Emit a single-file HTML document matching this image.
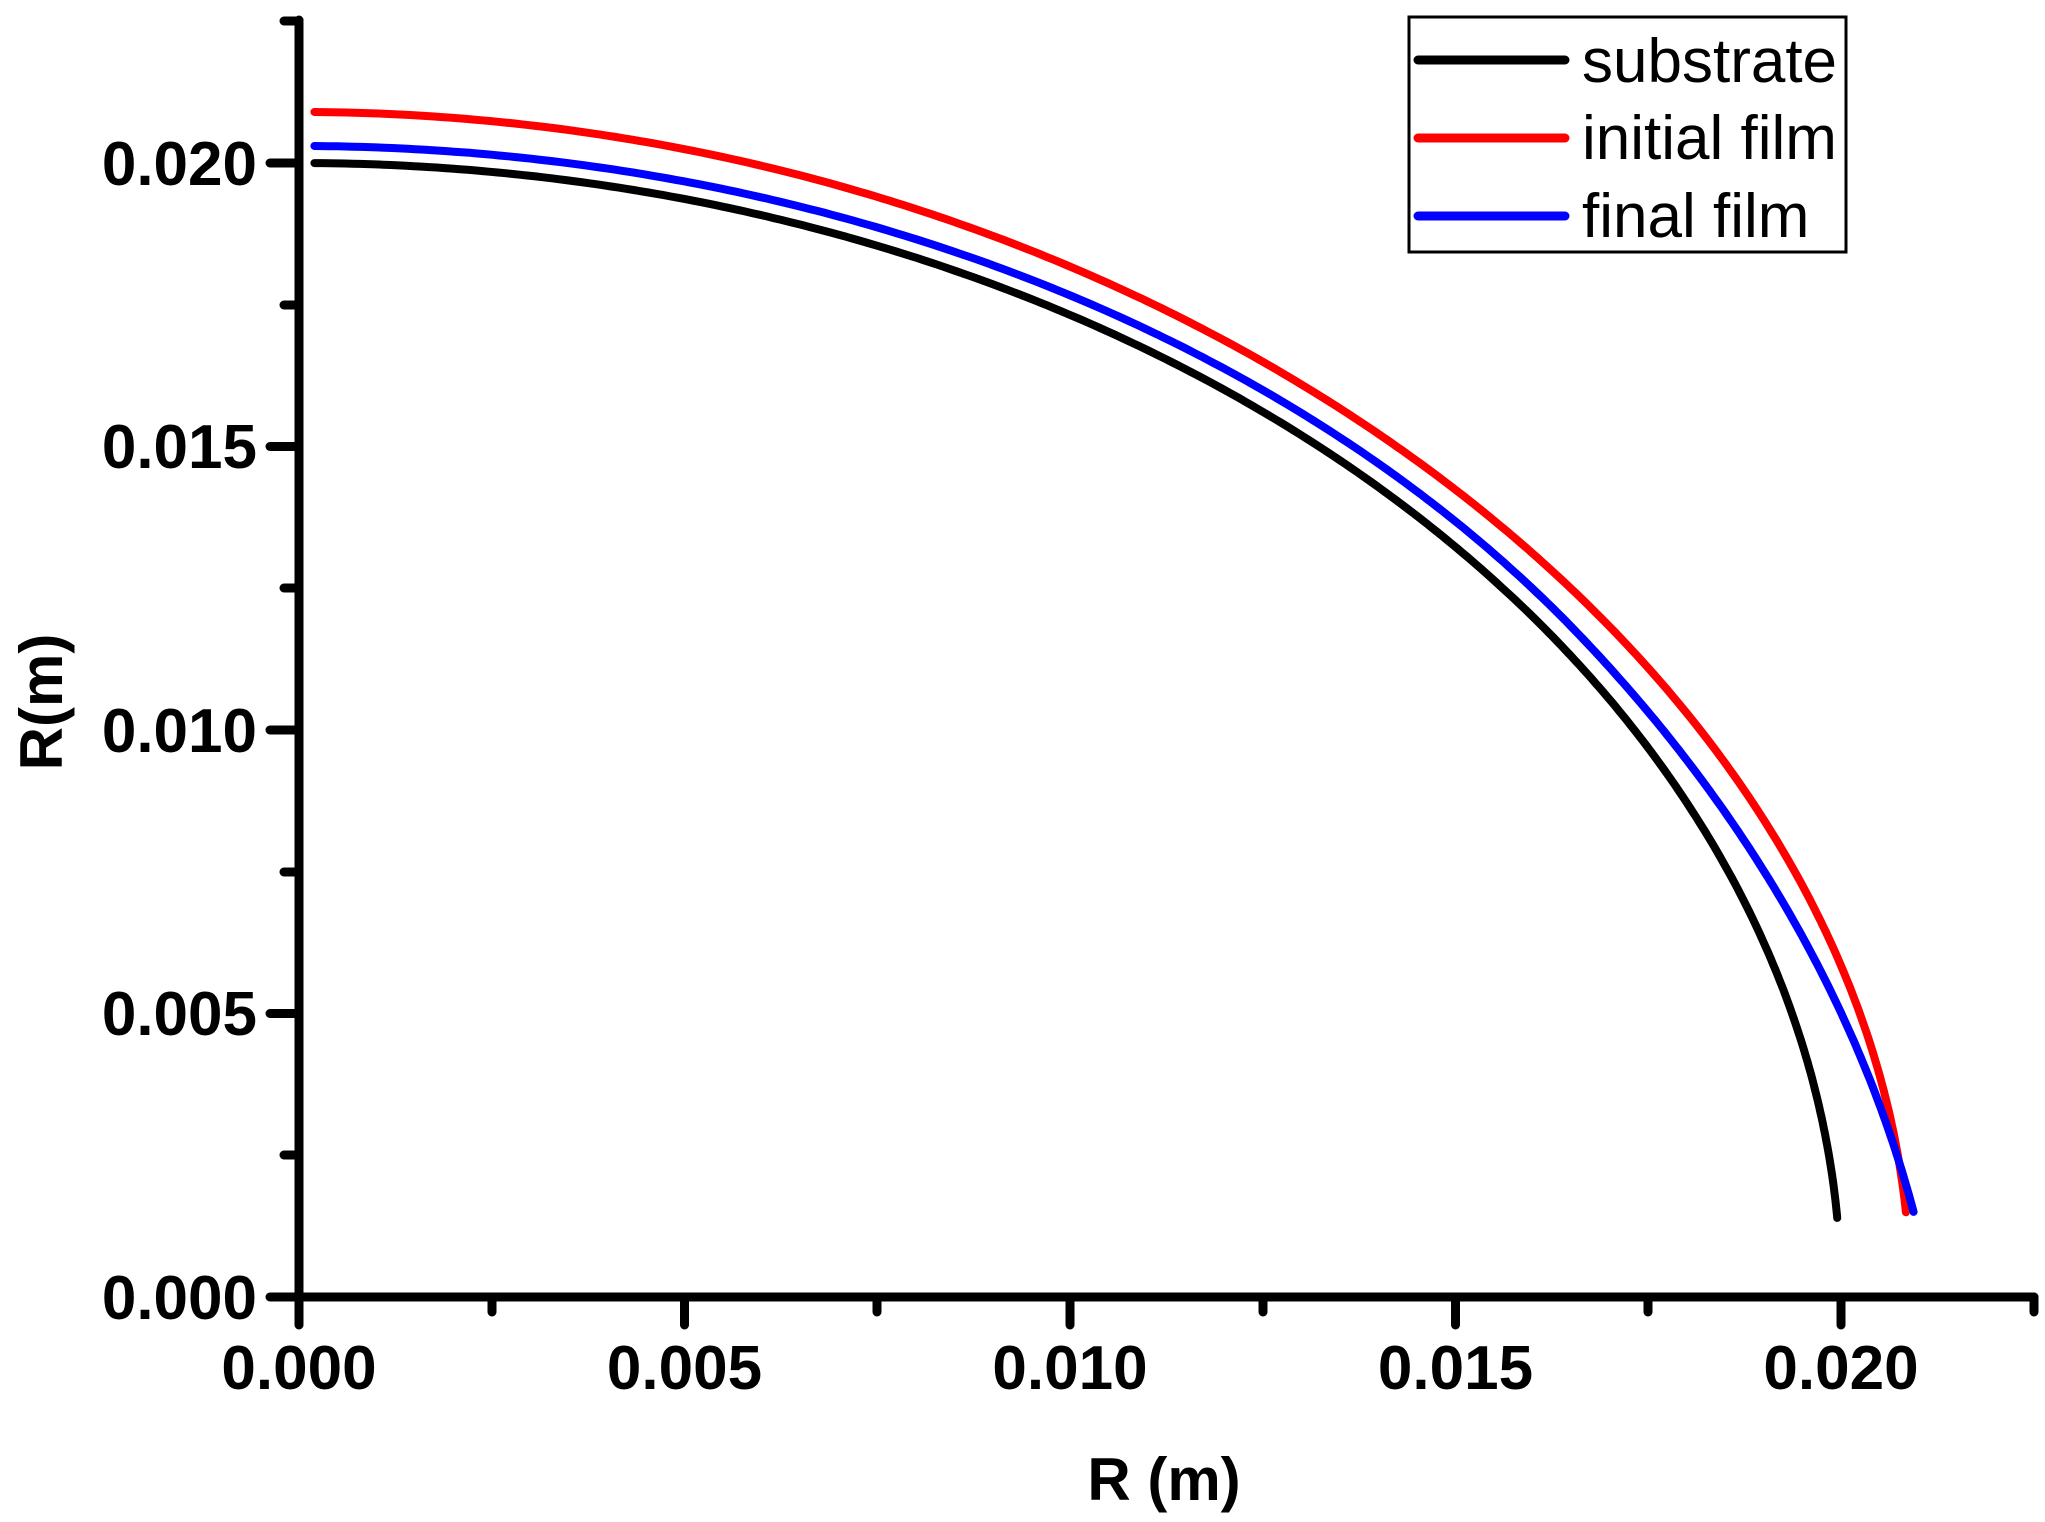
<!DOCTYPE html>
<html><head><meta charset="utf-8"><style>
html,body{margin:0;padding:0;background:#fff;}
svg{display:block;}
text{font-family:"Liberation Sans",Arial,sans-serif;}
</style></head><body>
<svg id="s" width="2045" height="1522" viewBox="0 0 2045 1522" xmlns="http://www.w3.org/2000/svg">
<rect width="2045" height="1522" fill="#fff"/>
<g stroke="#000" stroke-width="9" stroke-linecap="round" fill="none">
<line x1="299" y1="20" x2="299" y2="1297"/>
<line x1="299" y1="1297" x2="2034" y2="1297"/>
<line x1="270" y1="1297" x2="299" y2="1297"/>
<line x1="270" y1="1013.5" x2="299" y2="1013.5"/>
<line x1="270" y1="730" x2="299" y2="730"/>
<line x1="270" y1="446.5" x2="299" y2="446.5"/>
<line x1="270" y1="163" x2="299" y2="163"/>
<line x1="284" y1="1155" x2="299" y2="1155"/>
<line x1="284" y1="872" x2="299" y2="872"/>
<line x1="284" y1="588" x2="299" y2="588"/>
<line x1="284" y1="305" x2="299" y2="305"/>
<line x1="284" y1="21" x2="299" y2="21"/>
<line x1="299" y1="1297" x2="299" y2="1325"/>
<line x1="684.5" y1="1297" x2="684.5" y2="1325"/>
<line x1="1070" y1="1297" x2="1070" y2="1325"/>
<line x1="1455.5" y1="1297" x2="1455.5" y2="1325"/>
<line x1="1841" y1="1297" x2="1841" y2="1325"/>
<line x1="492" y1="1297" x2="492" y2="1312"/>
<line x1="877" y1="1297" x2="877" y2="1312"/>
<line x1="1263" y1="1297" x2="1263" y2="1312"/>
<line x1="1648" y1="1297" x2="1648" y2="1312"/>
<line x1="2034" y1="1297" x2="2034" y2="1312"/>
</g>
<g font-size="62" font-weight="bold" text-anchor="end">
<text x="257" y="1319">0.000</text>
<text x="257" y="1035">0.005</text>
<text x="257" y="752">0.010</text>
<text x="257" y="468">0.015</text>
<text x="257" y="185">0.020</text>
</g>
<g font-size="62" font-weight="bold" text-anchor="middle">
<text x="299" y="1389">0.000</text>
<text x="684.5" y="1389">0.005</text>
<text x="1070" y="1389">0.010</text>
<text x="1455.5" y="1389">0.015</text>
<text x="1841" y="1389">0.020</text>
</g>
<text x="1164" y="1500" font-size="60" font-weight="bold" text-anchor="middle">R (m)</text>
<text transform="translate(62,702) rotate(-90)" font-size="60" font-weight="bold" text-anchor="middle">R(m)</text>
<g id="curves" fill="none" stroke-width="8" stroke-linecap="round" stroke-linejoin="round"></g>
<rect x="1409" y="17" width="437" height="235" fill="#fff" stroke="#000" stroke-width="3"/>
<g stroke-width="9" stroke-linecap="round">
<line x1="1418" y1="60" x2="1565" y2="60" stroke="#000"/>
<line x1="1418" y1="138" x2="1565" y2="138" stroke="#f00"/>
<line x1="1418" y1="216" x2="1565" y2="216" stroke="#00f"/>
</g>
<g font-size="62">
<text x="1582" y="82">substrate</text>
<text x="1582" y="159">initial film</text>
<text x="1582" y="237">final film</text>
</g>
</svg>
<script>
(function(){
function X(v){return 299+v/0.005*385.5;}
function Y(v){return 1297-v/0.005*283.5;}
var D=Math.PI/180;
function path(rf,r0,thEnd,color){
  var d="",n=300;
  var t0=Math.asin(0.0002/r0), t1=thEnd*D;
  for(var i=0;i<=n;i++){
    var t=t0+(t1-t0)*i/n, r=rf(t);
    var x=r*Math.sin(t), y=r*Math.cos(t);
    d+=(i?"L":"M")+X(x).toFixed(1)+" "+Y(y).toFixed(1);
  }
  var p=document.createElementNS("http://www.w3.org/2000/svg","path");
  p.setAttribute("d",d);p.setAttribute("stroke",color);
  document.getElementById("curves").appendChild(p);
}
path(function(t){return 0.0200;},0.02,86.0,"#000");
path(function(t){var s=Math.sin(2*t);return 0.0209-0.00022*s*s;},0.0209,85.9,"#f00");
path(function(t){var a=t/D;return a>55?0.0203+0.0007*Math.pow((a-55)/31,2):0.0203;},0.0203,85.9,"#00f");
})();
</script>
</body></html>
